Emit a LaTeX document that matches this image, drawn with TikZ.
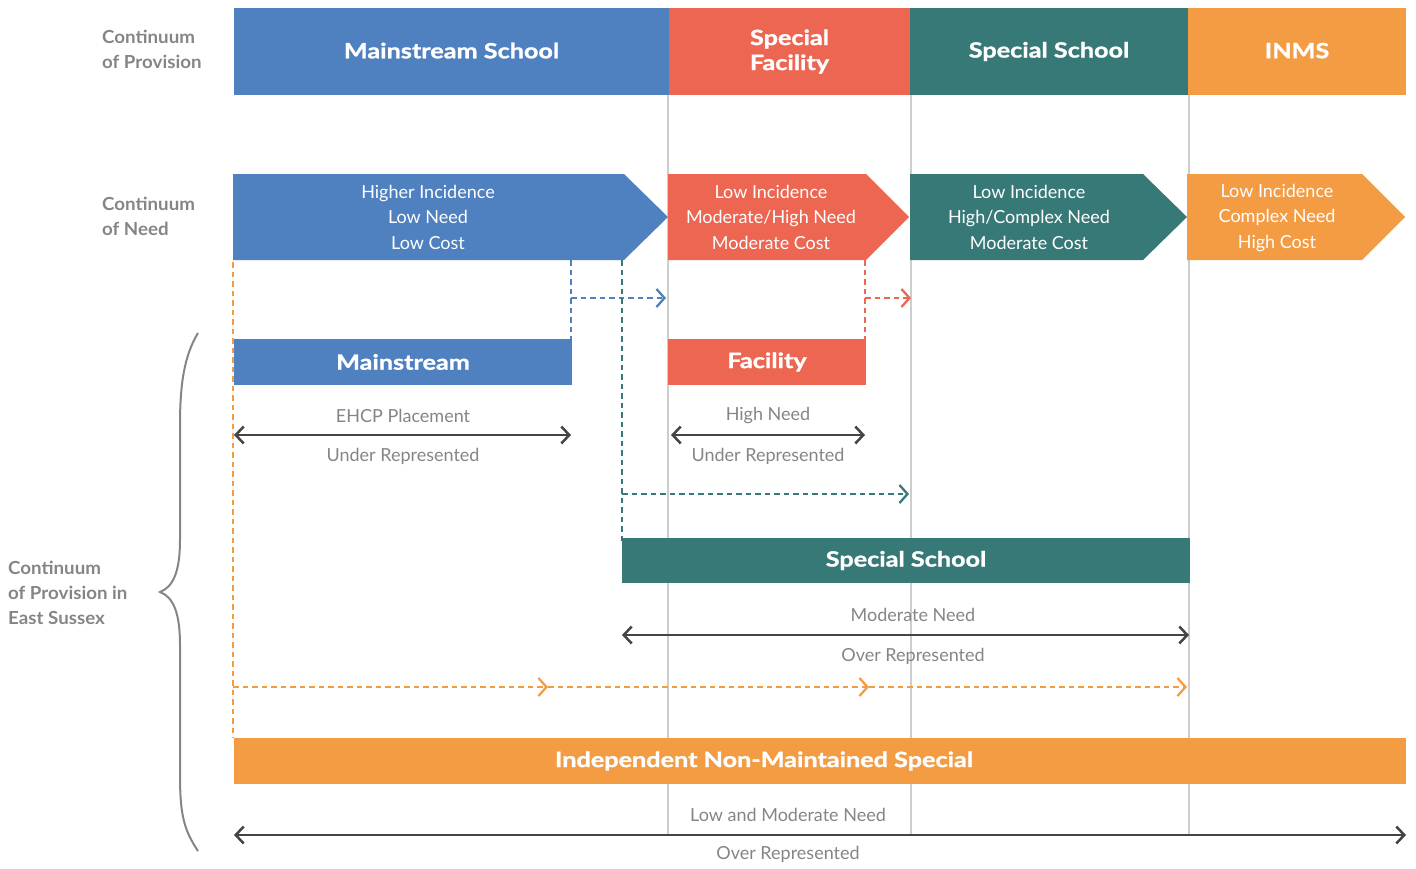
\documentclass[tikz,border=0pt]{standalone}
\usepackage{fontspec}
\setmainfont{Lato}
\newfontfamily\headfont{Lato}[BoldFeatures={FakeBold=1.3}, FakeStretch=1.2]
\newfontfamily\sidefont{Lato}[FakeStretch=1.04]
\usetikzlibrary{arrows.meta}
\definecolor{msblue}{HTML}{4F80C0}
\definecolor{sfred}{HTML}{EC6651}
\definecolor{ssteal}{HTML}{377977}
\definecolor{inorange}{HTML}{F39C44}
\definecolor{guidegray}{HTML}{CDCDCD}
\definecolor{labelgray}{HTML}{858585}
\definecolor{arrowgray}{HTML}{444444}
\begin{document}
\begin{tikzpicture}[x=1pt,y=-1pt,
  titlebar/.style={rectangle, inner sep=0pt, text=white, align=center,
    font=\headfont\bfseries\fontsize{21}{25}\selectfont},
  needtext/.style={text=white, align=center, inner sep=0pt,
    font=\fontsize{18}{25.5}\selectfont},
  sidelabel/.style={text=labelgray, align=left, anchor=west, inner sep=0pt,
    font=\sidefont\bfseries\fontsize{18}{25}\selectfont},
  caption/.style={text=labelgray, inner sep=0pt, font=\fontsize{18}{20}\selectfont},
  spanarrow/.style={draw=arrowgray, line width=2.5pt,
    {Straight Barb[length=8pt,width=17pt]}-{Straight Barb[length=8pt,width=17pt]}},
  flow/.style={line width=2.3pt, dash pattern=on 5.5pt off 4pt},
  flowtip/.style={-{Straight Barb[length=8pt,width=18pt]}},
  guideline/.style={draw=guidegray, line width=2.5pt},
]
\useasboundingbox (0,0) rectangle (1416,868);

% column guides
\coordinate (g1t) at (668,95);  \coordinate (g1b) at (668,835);
\coordinate (g2t) at (911,95);  \coordinate (g2b) at (911,835);
\coordinate (g3t) at (1189,95); \coordinate (g3b) at (1189,835);
\draw[guideline] (g1t) -- (g1b);
\draw[guideline] (g2t) -- (g2b);
\draw[guideline] (g3t) -- (g3b);

% side labels
\node[sidelabel] (lprov) at (102,49) {Continuum\\of Provision};
\node[sidelabel] (lneed) at (102,216.5) {Continuum\\of Need};
\node[sidelabel] (les) at (8,592.5) {Continuum\\of Provision in\\East Sussex};

% continuum of provision
\node[titlebar, fill=msblue, minimum width=435pt, minimum height=87pt] (tms) at (451.5,51.5) {\raisebox{2pt}{Mainstream School}};
\node[titlebar, fill=sfred, minimum width=241pt, minimum height=87pt] (tsf) at (789.5,51.5) {Special\\Facility};
\node[titlebar, fill=ssteal, minimum width=278pt, minimum height=87pt] (tss) at (1049,51.5) {\raisebox{2pt}{Special School}};
\node[titlebar, fill=inorange, minimum width=218pt, minimum height=87pt] (tin) at (1297,51.5) {\raisebox{2pt}{INMS}};

% continuum of need
\fill[msblue] (233,174) -- (624,174) -- (668,217) -- (624,260) -- (233,260) -- cycle;
\fill[sfred] (668,174) -- (866,174) -- (909,217) -- (866,260) -- (668,260) -- cycle;
\fill[ssteal] (910,174) -- (1143,174) -- (1187,217) -- (1143,260) -- (910,260) -- cycle;
\fill[inorange] (1187,174) -- (1362,174) -- (1405,217) -- (1362,260) -- (1187,260) -- cycle;
\node[needtext] (nms) at (428,217) {Higher Incidence\\Low Need\\Low Cost};
\node[needtext] (nsf) at (771,217) {Low Incidence\\Moderate/High Need\\Moderate Cost};
\node[needtext] (nss) at (1029,217) {Low Incidence\\High/Complex Need\\Moderate Cost};
\node[needtext] (nin) at (1277,218) {Low Incidence\\Complex Need\\High Cost};

% brace
\draw[labelgray, line width=2pt] (198,333) .. controls (184,356) and (180,385) .. (180,425)
  -- (180,540) .. controls (180,572) and (173,587) .. (160,592)
  .. controls (173,597) and (180,612) .. (180,645)
  -- (180,775) .. controls (180,815) and (184,830) .. (198,851);

% East Sussex provision bars
\node[titlebar, fill=msblue, minimum width=338pt, minimum height=46pt] (bms) at (403,362) {Mainstream};
\node[titlebar, fill=sfred, minimum width=198pt, minimum height=46pt] (bsf) at (767,362) {Facility};
\node[titlebar, fill=ssteal, minimum width=568pt, minimum height=45pt] (bss) at (906,560.5) {Special School};
\node[fill=inorange, minimum width=1172pt, minimum height=46pt, inner sep=0pt] (bin) at (820,761) {};
\node[titlebar] (binlabel) at (764,761) {Independent Non-Maintained Special};

% spans and captions
\coordinate (s1l) at (234,435);  \coordinate (s1r) at (571,435);
\coordinate (s2l) at (671,435);  \coordinate (s2r) at (865,435);
\coordinate (s3l) at (622,635);  \coordinate (s3r) at (1189,635);
\coordinate (s4l) at (234,835);  \coordinate (s4r) at (1406,835);
\draw[spanarrow] (s1l) -- (s1r);
\draw[spanarrow] (s2l) -- (s2r);
\draw[spanarrow] (s3l) -- (s3r);
\draw[spanarrow] (s4l) -- (s4r);
\node[caption] (c1a) at (403,416) {EHCP Placement};
\node[caption] (c1b) at (403,456) {Under Represented};
\node[caption] (c2a) at (768,416) {High Need};
\node[caption] (c2b) at (768,456) {Under Represented};
\node[caption] (c3a) at (913,615) {Moderate Need};
\node[caption] (c3b) at (913,656) {Over Represented};
\node[caption] (c4a) at (788,815) {Low and Moderate Need};
\node[caption] (c4b) at (788,854) {Over Represented};

% dashed flows
\coordinate (fb0) at (571,260); \coordinate (fb1) at (571,298); \coordinate (fb2) at (666,298);
\draw[flow, msblue] (fb0) -- (bms.north east -| fb0);
\draw[flow, flowtip, msblue] (fb1) -- (fb2);

\coordinate (fr0) at (865,260); \coordinate (fr1) at (865,298); \coordinate (fr2) at (911,298);
\draw[flow, sfred] (fr0) -- (bsf.north east -| fr0);
\draw[flow, flowtip, sfred] (fr1) -- (fr2);

\coordinate (ft0) at (622,260); \coordinate (ft1) at (622,494); \coordinate (ft2) at (909,494);
\coordinate (ft3) at (622,545);
\draw[flow, ssteal] (ft0) -- (ft3);
\draw[flow, flowtip, ssteal] (ft1) -- (ft2);

\coordinate (fo0) at (233,262); \coordinate (fo1) at (233,687);
\coordinate (fo2) at (548,687); \coordinate (fo3) at (869,687); \coordinate (fo4) at (1187,687);
\draw[flow, inorange] (fo0) -- (bin.north west -| fo0);
\draw[flow, flowtip, inorange] (fo1) -- (fo2);
\draw[flow, flowtip, inorange] (fo2) -- (fo3);
\draw[flow, flowtip, inorange] (fo3) -- (fo4);
\end{tikzpicture}
\end{document}
